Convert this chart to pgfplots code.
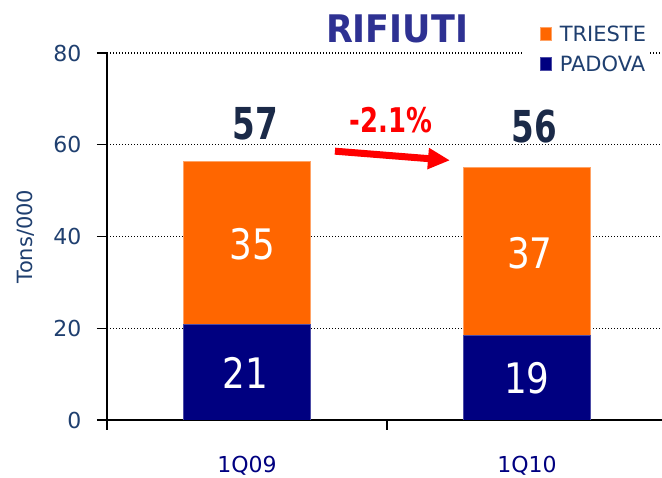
\documentclass[border=0pt]{standalone}
\usepackage{pgfplots}
\pgfplotsset{compat=1.18}
\usepackage{fontspec}
\setmainfont{DejaVu Sans}
\usepackage{graphicx}
\usetikzlibrary{arrows.meta}
\definecolor{orangeT}{HTML}{FF6600}
\definecolor{navyP}{HTML}{000080}
\definecolor{tickblue}{HTML}{1F3F6F}
\definecolor{titleblue}{HTML}{2E3192}
\definecolor{totdark}{HTML}{1B2A48}
\begin{document}
\begin{tikzpicture}
\path[use as bounding box, clip] (0,0) rectangle (662pt,478pt);
\begin{axis}[
  at={(107pt,58pt)}, anchor=south west,
  scale only axis, width=560pt, height=367pt,
  xmin=-0.5, xmax=1.5, ymin=0, ymax=80,
  axis lines=left, axis line style={-, line width=1.4pt},
  ybar stacked, bar width=127pt,
  xtick={-0.5,0.5,1.5}, xticklabels={},
  extra x ticks={0,1}, extra x tick labels={1Q09,1Q10},
  extra x tick style={major tick length=0pt, grid=none,
    xticklabel style={font=\fontsize{22}{22}\selectfont, text=navyP, yshift=-33pt}},
  ytick={0,20,40,60,80},
  tick align=outside, major tick length=10pt,
  tick style={black, line width=1.2pt},
  yticklabel style={font=\fontsize{22}{22}\selectfont, text=tickblue, xshift=-12pt},
  /pgf/number format/assume math mode=true,
  ymajorgrids, grid style={black, line width=1.4pt, dash pattern=on 1.4pt off 1.6pt},
  ylabel={\fontsize{21}{21}\selectfont Tons/000},
  ylabel style={text=tickblue, at={(axis description cs:-0.146,0.50)}, anchor=center},
  title={\scalebox{0.92}[1]{RIFIUTI}},
  title style={font=\fontsize{38}{38}\selectfont\bfseries, text=titleblue, at={(axis description cs:0.518,1.048)}, anchor=center},
  legend style={at={(axis description cs:0.741,1.085)}, anchor=north west, draw=none, fill=white,
    font=\fontsize{21}{21}\selectfont, text=tickblue, row sep=9pt, inner sep=2pt,
    /tikz/every odd column/.append style={column sep=6pt}},
  legend cell align=left,
  legend image code/.code={\path (0pt,0pt); \fill[#1] (16pt,-6pt) rectangle (27pt,7pt);},
  reverse legend,
]
\addplot[fill=navyP, draw=navyP!70!white, line width=0.6pt] coordinates {(0,20.9) (1,18.5)};
\addplot[fill=orangeT, draw=orangeT!60!white, line width=0.6pt] coordinates {(0,35.4) (1,36.6)};
\legend{PADOVA,TRIESTE}
\coordinate (t57) at (axis cs:0.03,64.5);
\coordinate (t56) at (axis cs:1.025,63.9);
\coordinate (pct) at (axis cs:0.514,65.4);
\coordinate (a1) at (axis cs:0.314,58.6);
\coordinate (a2) at (axis cs:0.725,56.6);
\coordinate (l35) at (axis cs:0.018,38.4);
\coordinate (l21) at (axis cs:-0.007,10.2);
\coordinate (l37) at (axis cs:1.01,36.4);
\coordinate (l19) at (axis cs:1.0,9.2);
\end{axis}
\node[font=\fontsize{44}{44}\selectfont\bfseries, text=totdark] at (t57) {\scalebox{0.74}[1]{57}};
\node[font=\fontsize{44}{44}\selectfont\bfseries, text=totdark] at (t56) {\scalebox{0.74}[1]{56}};
\node[font=\fontsize{34}{34}\selectfont\bfseries, text=red] at (pct) {\scalebox{0.76}[1]{-2.1\%}};
\draw[red, line width=7pt, -{Triangle[length=22pt,width=20pt]}] (a1) -- (a2);
\node[font=\fontsize{42}{42}\selectfont, text=white] at (l35) {\scalebox{0.85}[1]{35}};
\node[font=\fontsize{42}{42}\selectfont, text=white] at (l21) {\scalebox{0.85}[1]{21}};
\node[font=\fontsize{42}{42}\selectfont, text=white] at (l37) {\scalebox{0.85}[1]{37}};
\node[font=\fontsize{42}{42}\selectfont, text=white] at (l19) {\scalebox{0.85}[1]{19}};
\end{tikzpicture}
\end{document}
